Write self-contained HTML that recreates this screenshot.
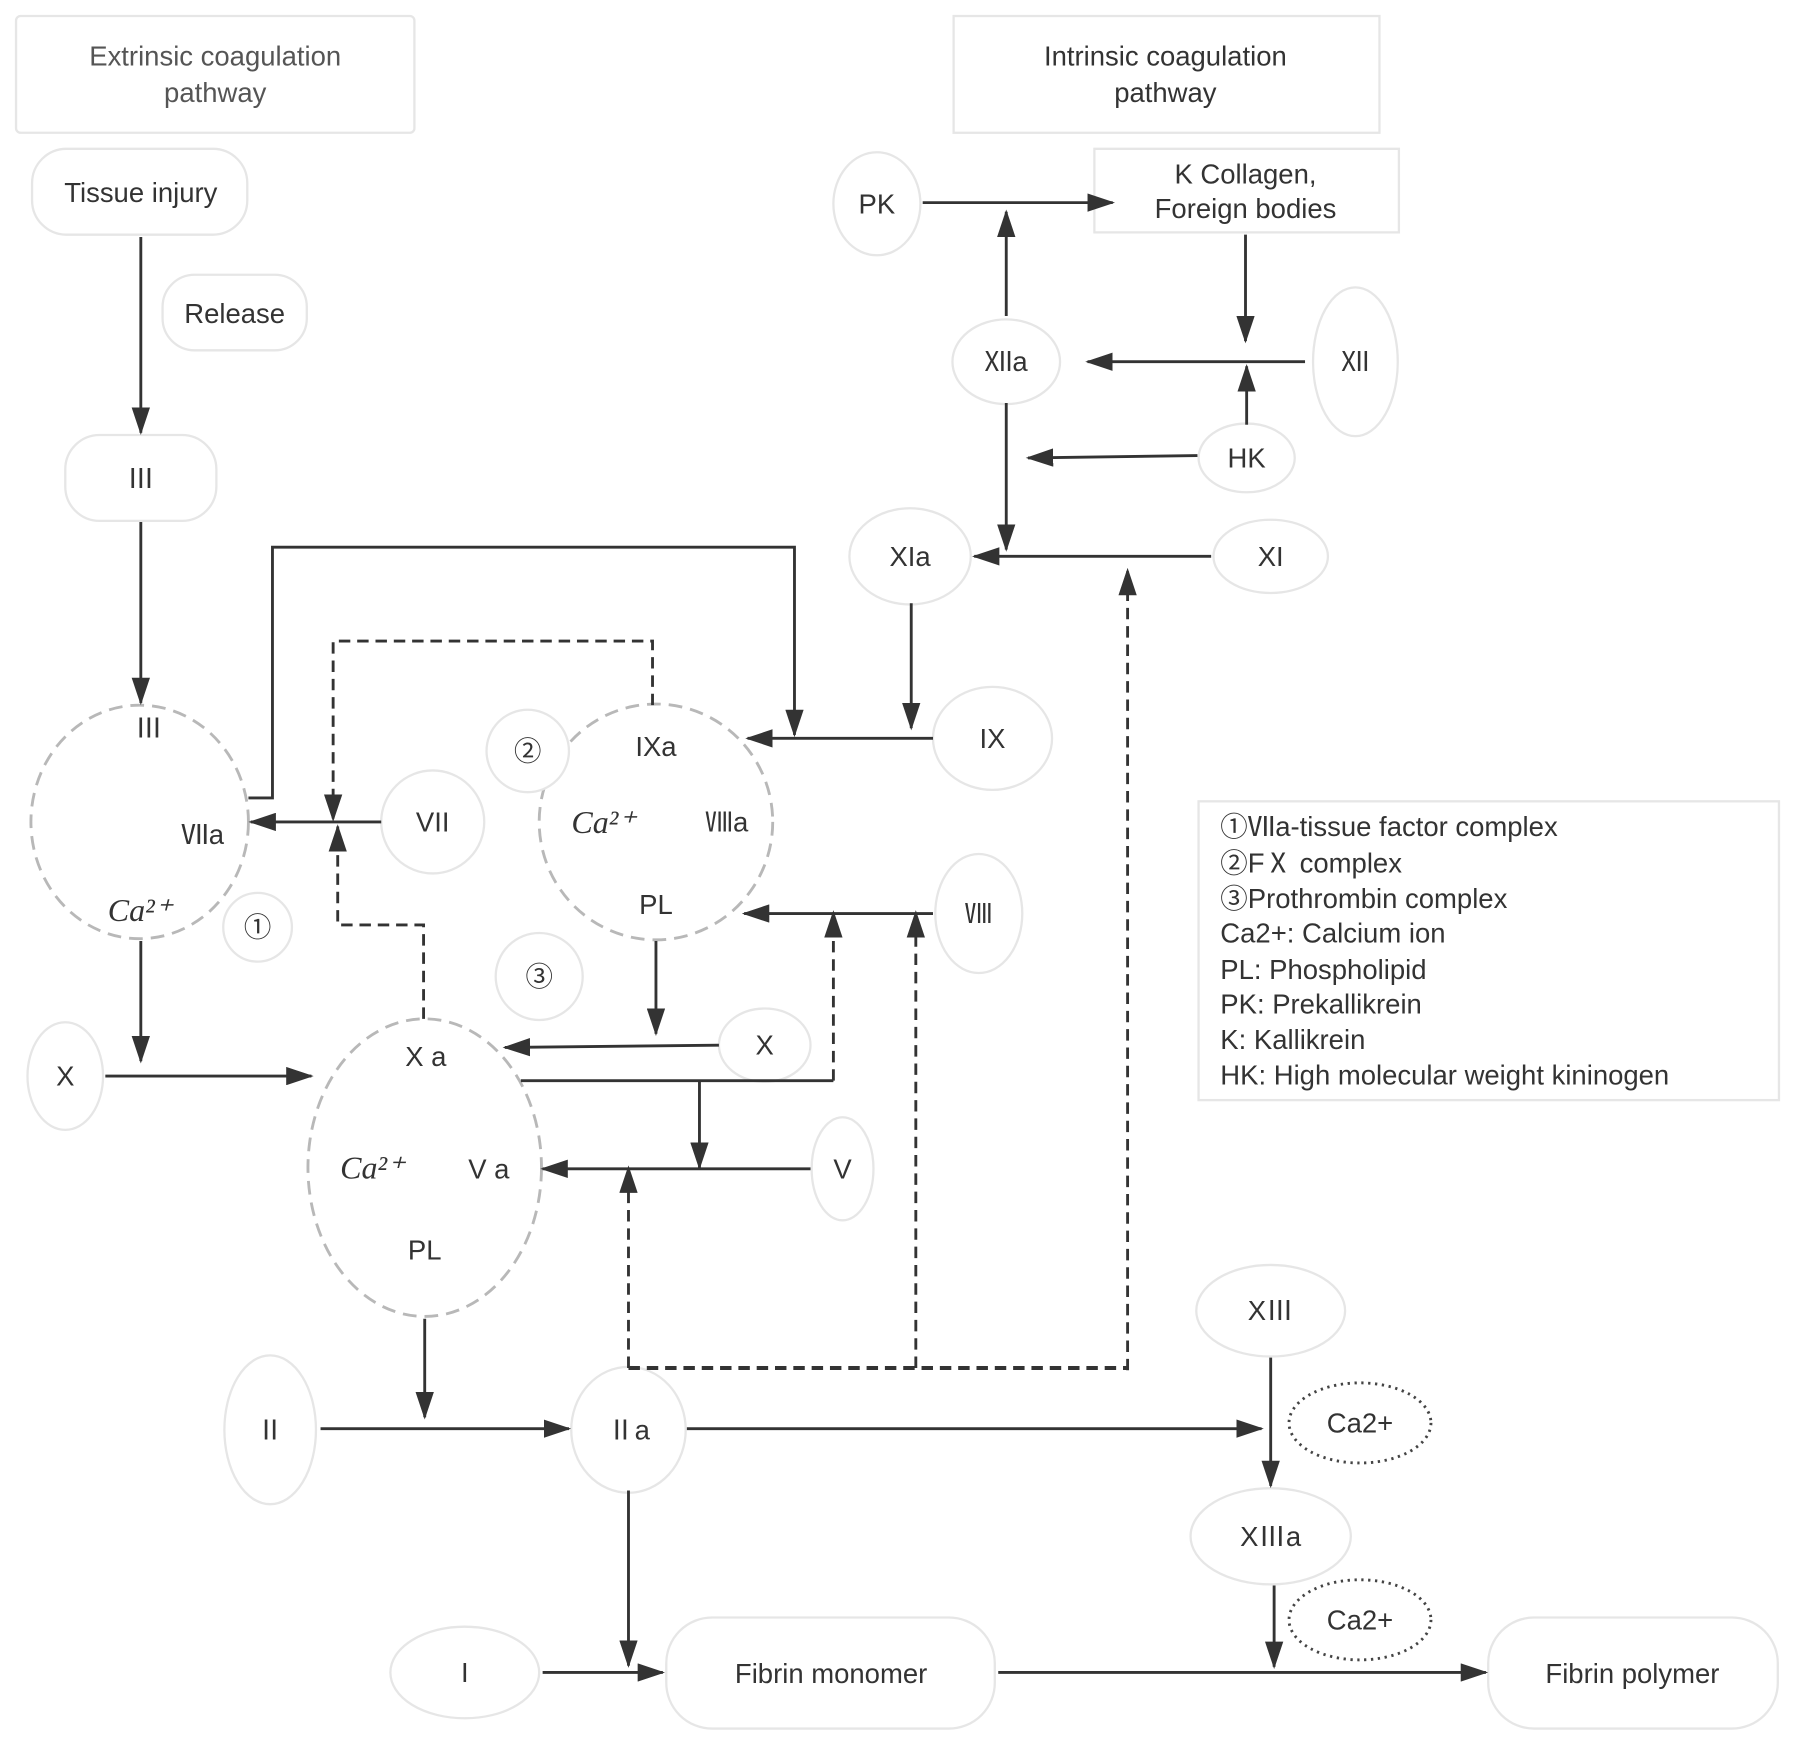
<!DOCTYPE html>
<html><head><meta charset="utf-8"><style>
html,body{margin:0;padding:0;background:#fff;}
svg{display:block;}
text{font-family:"Liberation Sans","Noto Sans CJK SC",sans-serif;font-size:24px;fill:#333;text-anchor:middle;dominant-baseline:central;}
.it{font-family:"Liberation Serif",serif;font-style:italic;font-size:28px;}
.n{fill:#fff;stroke:#e6e6e6;stroke-width:2;}
.dc{fill:none;stroke:#b8b8b8;stroke-width:2.5;stroke-dasharray:12 7;}
.l{fill:none;stroke:#333;stroke-width:2.5;}
.d{fill:none;stroke:#333;stroke-width:2.5;stroke-dasharray:10 6;}
.dt{fill:none;stroke:#444;stroke-width:2.5;stroke-dasharray:2 4;}
.lg{text-anchor:start;font-size:24px;}
</style></head><body>
<svg width="1795" height="1743" viewBox="0 0 1568 1522.6" xmlns="http://www.w3.org/2000/svg">
<defs><marker id="a" markerUnits="userSpaceOnUse" markerWidth="24" markerHeight="16" refX="22" refY="8" orient="auto"><path d="M0,0 L24,8 L0,16 z" fill="#333"/></marker></defs>
<rect x="0" y="0" width="1568" height="1523" fill="#fff"/>
<rect class="n" x="14" y="14" width="348" height="102" rx="4"/>
<text x="188" y="49" style="fill:#555">Extrinsic coagulation</text><text x="188" y="81" style="fill:#555">pathway</text>
<rect class="n" x="833" y="14" width="372" height="102"/>
<text x="1018" y="49">Intrinsic coagulation</text><text x="1018" y="81">pathway</text>
<rect class="n" x="28" y="130" width="188" height="75" rx="30"/><text x="123" y="168">Tissue injury</text>
<rect class="n" x="142" y="240" width="126" height="66" rx="28"/><text x="205" y="274">Release</text>
<rect class="n" x="57" y="380" width="132" height="75" rx="30"/><text x="123" y="418">Ⅲ</text>
<ellipse class="dc" cx="122" cy="718" rx="95" ry="102"/>
<text x="130" y="636">Ⅲ</text><text x="177" y="729">Ⅶa</text><text class="it" x="122" y="795">Ca²⁺</text>
<circle class="n" cx="225" cy="810" r="30"/><text x="225" y="810">①</text>
<circle class="n" cx="378" cy="718" r="45"/><text x="378" y="718">VII</text>
<ellipse class="dc" cx="573" cy="718" rx="102" ry="103"/>
<text x="573" y="652">IXa</text><text class="it" x="527" y="718">Ca²⁺</text><text x="635" y="718">Ⅷa</text><text x="573" y="790">PL</text>
<circle class="n" cx="461" cy="656" r="36"/><text x="461" y="656">②</text>
<ellipse class="n" cx="867" cy="645" rx="52" ry="45"/><text x="867" y="645">IX</text>
<ellipse class="n" cx="795" cy="486" rx="53" ry="42"/><text x="795" y="486">XIa</text>
<ellipse class="n" cx="1110" cy="486" rx="50" ry="32"/><text x="1110" y="486">XI</text>
<ellipse class="n" cx="879" cy="316" rx="47" ry="37"/><text x="879" y="316">Ⅻa</text>
<ellipse class="n" cx="766" cy="178" rx="38" ry="45"/><text x="766" y="178">PK</text>
<rect class="n" x="956" y="130" width="266" height="73"/><text x="1088" y="152">K Collagen,</text><text x="1088" y="182">Foreign bodies</text>
<ellipse class="n" cx="1184" cy="316" rx="37" ry="65"/><text x="1184" y="316">Ⅻ</text>
<ellipse class="n" cx="1089" cy="400" rx="42" ry="30"/><text x="1089" y="400">HK</text>
<ellipse class="n" cx="855" cy="798" rx="38" ry="52"/><text x="855" y="798">Ⅷ</text>
<circle class="n" cx="471" cy="853" r="38"/><text x="471" y="853">③</text>
<ellipse class="n" cx="668" cy="913" rx="40" ry="32"/><text x="668" y="913">X</text>
<ellipse class="dc" cx="371" cy="1020" rx="102" ry="130"/>
<text x="372" y="923">X a</text><text class="it" x="325" y="1020">Ca²⁺</text><text x="427" y="1021">V a</text><text x="371" y="1092">PL</text>
<ellipse class="n" cx="736" cy="1021" rx="27" ry="45"/><text x="736" y="1021">V</text>
<ellipse class="n" cx="57" cy="940" rx="33" ry="47"/><text x="57" y="940">X</text>
<ellipse class="n" cx="236" cy="1249" rx="40" ry="65"/><text x="236" y="1249">Ⅱ</text>
<ellipse class="n" cx="549" cy="1249" rx="50" ry="55"/><text x="549" y="1249">Ⅱa</text>
<ellipse class="n" cx="1110" cy="1145" rx="65" ry="40"/><text x="1110" y="1145">XⅢ</text>
<ellipse class="dt" cx="1188" cy="1243" rx="62" ry="35"/><text x="1188" y="1243">Ca2+</text>
<ellipse class="n" cx="1110" cy="1342" rx="70" ry="42"/><text x="1110" y="1342">XⅢa</text>
<ellipse class="dt" cx="1188" cy="1415" rx="62" ry="35"/><text x="1188" y="1415">Ca2+</text>
<ellipse class="n" cx="406" cy="1461" rx="65" ry="40"/><text x="406" y="1461">I</text>
<rect class="n" x="582" y="1413" width="287" height="97" rx="40"/><text x="726" y="1462">Fibrin monomer</text>
<rect class="n" x="1300" y="1413" width="253" height="97" rx="40"/><text x="1426" y="1462">Fibrin polymer</text>
<rect class="n" x="1047" y="700" width="507" height="261"/>
<text class="lg" x="1066" y="722">①Ⅶa-tissue factor complex</text>
<text class="lg" x="1066" y="754">②FⅩ complex</text>
<text class="lg" x="1066" y="785">③Prothrombin complex</text>
<text class="lg" x="1066" y="815">Ca2+: Calcium ion</text>
<text class="lg" x="1066" y="847">PL: Phospholipid</text>
<text class="lg" x="1066" y="877">PK: Prekallikrein</text>
<text class="lg" x="1066" y="908">K: Kallikrein</text>
<text class="lg" x="1066" y="939">HK: High molecular weight kininogen</text>
<path class="l" d="M123,207 V378" marker-end="url(#a)"/>
<path class="l" d="M123,456 V614" marker-end="url(#a)"/>
<path class="l" d="M333,718 H219" marker-end="url(#a)"/>
<path class="d" d="M370,890 V808 H295 V722" marker-end="url(#a)"/>
<path class="d" d="M570,616 V560 H291 V716" marker-end="url(#a)"/>
<path class="l" d="M217,697 H238 V478 H694 V642" marker-end="url(#a)"/>
<path class="l" d="M815,645 H653" marker-end="url(#a)"/>
<path class="l" d="M796,527 V636" marker-end="url(#a)"/>
<path class="l" d="M1058,486 H851" marker-end="url(#a)"/>
<path class="l" d="M879,352 V480" marker-end="url(#a)"/>
<path class="d" d="M985,1197 V498" marker-end="url(#a)"/>
<path class="l" d="M879,276 V185" marker-end="url(#a)"/>
<path class="l" d="M806,177 H972" marker-end="url(#a)"/>
<path class="l" d="M1088,205 V298" marker-end="url(#a)"/>
<path class="l" d="M1140,316 H950" marker-end="url(#a)"/>
<path class="l" d="M1089,371 V320" marker-end="url(#a)"/>
<path class="l" d="M1046,398 L898,400" marker-end="url(#a)"/>
<path class="l" d="M815,798 H650" marker-end="url(#a)"/>
<path class="l" d="M573,822 V903" marker-end="url(#a)"/>
<path class="l" d="M628,913 L441,915" marker-end="url(#a)"/>
<path class="l" d="M455,944 H728"/>
<path class="d" d="M728,944 V797" marker-end="url(#a)"/>
<path class="l" d="M611,945 V1020" marker-end="url(#a)"/>
<path class="l" d="M708,1021 H474" marker-end="url(#a)"/>
<path class="d" d="M549,1195 V1020" marker-end="url(#a)"/>
<path class="d" d="M549,1195 H985" style="stroke-width:3.5"/>
<path class="d" d="M800,1195 V797" marker-end="url(#a)"/>
<path class="l" d="M92,940 H272" marker-end="url(#a)"/>
<path class="l" d="M123,822 V927" marker-end="url(#a)"/>
<path class="l" d="M371,1152 V1238" marker-end="url(#a)"/>
<path class="l" d="M280,1248 H497" marker-end="url(#a)"/>
<path class="l" d="M600,1248 H1102" marker-end="url(#a)"/>
<path class="l" d="M549,1302 V1455" marker-end="url(#a)"/>
<path class="l" d="M1110,1186 V1298" marker-end="url(#a)"/>
<path class="l" d="M1113,1385 V1456" marker-end="url(#a)"/>
<path class="l" d="M474,1461 H579" marker-end="url(#a)"/>
<path class="l" d="M872,1461 H1298" marker-end="url(#a)"/>
</svg>
</body></html>
